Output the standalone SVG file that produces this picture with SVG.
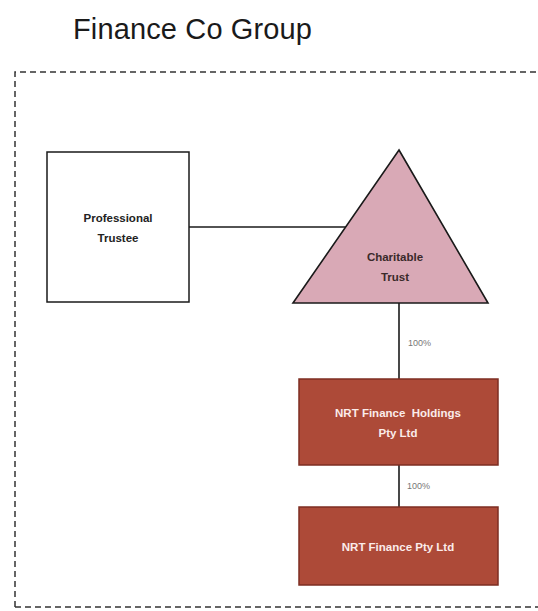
<svg xmlns="http://www.w3.org/2000/svg" width="538" height="611" viewBox="0 0 538 611">
<style>
.t{font-family:"Liberation Sans","DejaVu Sans",sans-serif;}
.title{font-size:29px;fill:#1a1a1a;}
.lbl{font-size:11.5px;font-weight:bold;text-anchor:middle;}
.pct{font-size:9px;fill:#777;}
.co{fill:#ad4a38;stroke:#7d2e22;stroke-width:1.5;}
.ln{stroke:#1a1a1a;stroke-width:1.6;fill:none;}
</style>
<rect width="538" height="611" fill="#ffffff"/>
<text class="t title" x="73" y="39" textLength="239">Finance Co Group</text>
<path d="M15,607 L15,72 L538,72 M15,607 L538,607" fill="none" stroke="#333" stroke-width="1.5" stroke-dasharray="6,4"/>
<g id="connectors">
<line class="ln" x1="189" y1="227" x2="348" y2="227"/>
<line class="ln" x1="399" y1="303" x2="399" y2="379"/>
<line class="ln" x1="399" y1="465" x2="399" y2="507"/>
<text class="t pct" x="408" y="346">100%</text>
<text class="t pct" x="407" y="489">100%</text>
</g>
<g id="professional-trustee">
<rect x="47" y="152" width="142" height="150" fill="#fff" stroke="#1a1a1a" stroke-width="1.5"/>
<text class="t lbl" x="118" y="222" fill="#222">Professional</text>
<text class="t lbl" x="118" y="242" fill="#222">Trustee</text>
</g>
<g id="charitable-trust">
<polygon points="399,150 488,303 293,303" fill="#d9a9b6" stroke="#1a1a1a" stroke-width="1.6"/>
<text class="t lbl" x="395" y="261" fill="#3a2a2a" font-weight="normal">Charitable</text>
<text class="t lbl" x="395" y="281" fill="#3a2a2a" font-weight="normal">Trust</text>
</g>
<g id="nrt-holdings">
<rect class="co" x="299" y="379" width="199" height="86"/>
<text class="t lbl" x="398" y="417" fill="#fbecea">NRT Finance&#160; Holdings</text>
<text class="t lbl" x="398" y="437" fill="#fbecea">Pty Ltd</text>
</g>
<g id="nrt-finance">
<rect class="co" x="299" y="507" width="199" height="78"/>
<text class="t lbl" x="398" y="551" fill="#fbecea">NRT Finance Pty Ltd</text>
</g>
</svg>
